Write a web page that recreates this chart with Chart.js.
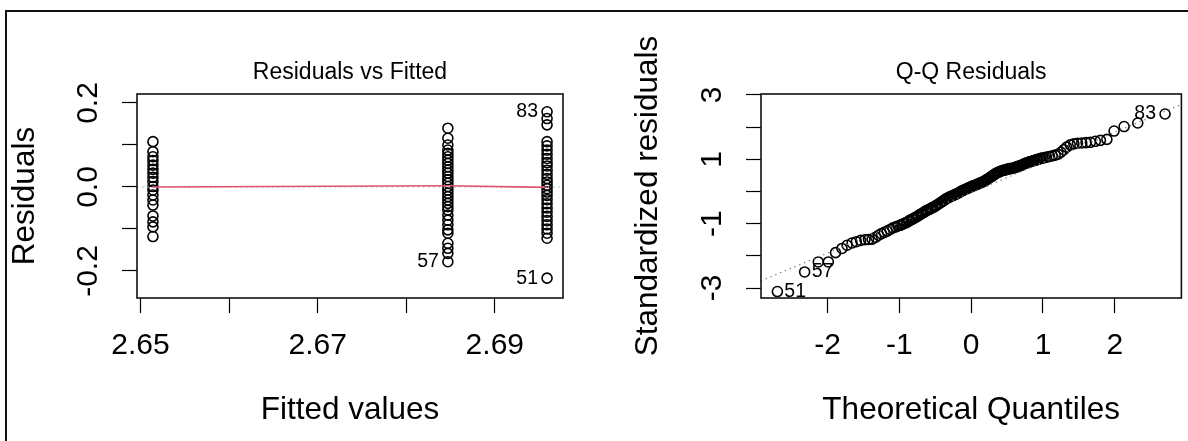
<!DOCTYPE html>
<html>
<head>
<meta charset="utf-8">
<script src="https://cdn.jsdelivr.net/npm/chart.js@4.4.0/dist/chart.umd.min.js"></script>
<style>
  html, body { margin: 0; padding: 0; background: #fff; }
  body { width: 1188px; height: 441px; position: relative; overflow: hidden; }
  #frame { position: absolute; left: 5px; top: 10px; width: 1300px; height: 600px;
           border-left: 2px solid #111; border-top: 2px solid #111; }
  canvas { position: absolute; top: 0; }
  #fitted { left: 0; }
  #qq { left: 594px; }
</style>
</head>
<body>
<div id="frame"></div>
<canvas id="fitted" width="594" height="441"></canvas>
<canvas id="qq" width="594" height="441"></canvas>
<script>
// plot.lm style pair: residuals vs fitted, normal Q-Q
Chart.defaults.font.family = "'Liberation Sans', Arial, sans-serif";
Chart.defaults.color = "#000";

// --- residuals vs fitted ---
const groupFitted = [2.6514, 2.6847, 2.6959];
const resLow = [0.108, 0.084, 0.072, 0.063, 0.052, 0.042, 0.033, 0.023, 0.013, 0.001,
  -0.007, -0.019, -0.031, -0.043, -0.069, -0.083, -0.095, -0.118];
const resMid = [0.140, 0.116, 0.100, 0.088, 0.080, 0.072, 0.064, 0.056, 0.048, 0.040,
  0.033, 0.025, 0.017, 0.009, 0.001, -0.007, -0.015, -0.023, -0.031, -0.039, -0.047,
  -0.055, -0.067, -0.079, -0.090, -0.102, -0.110, -0.134, -0.146, -0.158, -0.178];
const resHigh = [0.179, 0.163, 0.148, 0.108, 0.098, 0.088, 0.078, 0.068, 0.058, 0.050,
  0.040, 0.030, 0.020, 0.012, 0.004, -0.004, -0.012, -0.020, -0.030, -0.040, -0.050,
  -0.060, -0.070, -0.080, -0.090, -0.100, -0.110, -0.122, -0.217];
const smoothX = [2.6514, 2.6847, 2.6959];
const smoothY = [0.000, 0.003, -0.001];
const fittedRange = [2.6496, 2.6977];
const residRange = [-0.2643, 0.2214];
const fittedTicks = [2.65, 2.66, 2.67, 2.68, 2.69];
const fittedTickLabels = ["2.65", "", "2.67", "", "2.69"];
const residTicks = [-0.2, -0.1, 0, 0.1, 0.2];
const residTickLabels = ["-0.2", "", "0.0", "", "0.2"];

// --- normal Q-Q ---
const qqTheo = [-2.70, -2.32, -2.13, -1.99, -1.89, -1.80, -1.73, -1.66, -1.60, -1.54,
  -1.48, -1.43, -1.38, -1.33, -1.29, -1.25, -1.21, -1.17, -1.13, -1.09, -1.05, -1.02,
  -0.99, -0.97, -0.95, -0.93, -0.91, -0.89, -0.87, -0.85, -0.83, -0.81,
  -0.79, -0.77, -0.75, -0.73, -0.71, -0.69, -0.67, -0.65, -0.63, -0.61,
  -0.59, -0.57, -0.55, -0.53, -0.51, -0.49, -0.47, -0.45, -0.43, -0.41,
  -0.39, -0.37, -0.35, -0.33, -0.31, -0.29, -0.27, -0.25, -0.23, -0.21,
  -0.19, -0.17, -0.15, -0.13, -0.11, -0.09, -0.07, -0.05, -0.03, -0.01,
  0.01, 0.03, 0.05, 0.07, 0.09, 0.11, 0.13, 0.15, 0.17, 0.19,
  0.21, 0.23, 0.25, 0.27, 0.29, 0.31, 0.33, 0.35, 0.37, 0.39,
  0.41, 0.43, 0.45, 0.47, 0.49, 0.51, 0.53, 0.55, 0.57, 0.59,
  0.61, 0.63, 0.65, 0.67, 0.69, 0.71, 0.73, 0.75, 0.77, 0.79,
  0.81, 0.83, 0.85, 0.87, 0.89, 0.91, 0.93, 0.95, 0.97, 0.99,
  1.02, 1.05, 1.09, 1.13, 1.17, 1.21, 1.25, 1.29, 1.33, 1.38, 1.43,
  1.48, 1.54, 1.60, 1.66, 1.73, 1.80, 1.89, 1.99, 2.13, 2.32, 2.70];
const qqStd = [-3.11, -2.50, -2.19, -2.19, -1.90, -1.77, -1.67, -1.60, -1.56, -1.52,
  -1.50, -1.49, -1.48, -1.42, -1.36, -1.31, -1.27, -1.23, -1.18, -1.13, -1.10, -1.07,
  -1.05, -1.03, -1.01, -0.99, -0.97, -0.95, -0.92, -0.89, -0.87, -0.85,
  -0.82, -0.80, -0.77, -0.74, -0.71, -0.69, -0.66, -0.63, -0.60, -0.58,
  -0.56, -0.54, -0.51, -0.49, -0.47, -0.44, -0.41, -0.38, -0.35, -0.32,
  -0.29, -0.26, -0.23, -0.20, -0.18, -0.16, -0.14, -0.12, -0.10, -0.08,
  -0.06, -0.03, -0.01, 0.02, 0.04, 0.06, 0.08, 0.10, 0.12, 0.14,
  0.16, 0.18, 0.19, 0.21, 0.23, 0.25, 0.27, 0.29, 0.31, 0.33,
  0.36, 0.39, 0.42, 0.45, 0.48, 0.51, 0.54, 0.57, 0.59, 0.61,
  0.63, 0.65, 0.66, 0.67, 0.68, 0.70, 0.71, 0.71, 0.72, 0.73,
  0.75, 0.76, 0.78, 0.79, 0.81, 0.83, 0.85, 0.87, 0.89, 0.90,
  0.92, 0.93, 0.95, 0.96, 0.97, 0.99, 1.00, 1.01, 1.03, 1.04,
  1.05, 1.07, 1.09, 1.11, 1.13, 1.16, 1.22, 1.30, 1.38, 1.45, 1.48,
  1.50, 1.51, 1.52, 1.53, 1.56, 1.59, 1.62, 1.88, 2.02, 2.13, 2.41];
const qqLineX = [-2.93, 2.93];
const qqLineY = [-2.78, 2.71];
const qqXRange = [-2.928, 2.928];
const qqYRange = [-3.31, 3.031];
const qqXTicks = [-2, -1, 0, 1, 2];
const qqXTickLabels = ["-2", "-1", "0", "1", "2"];
const qqYTicks = [-3, -2, -1, 0, 1, 2, 3];
const qqYTickLabels = ["-3", "", "-1", "", "1", "", "3"];

const pts = (xs, ys) => ys.map((y, i) => ({ x: Array.isArray(xs) ? xs[i] : xs, y }));

// box round the plot region
const frameBox = {
  id: "frameBox",
  afterDatasetsDraw(chart) {
    const { ctx, chartArea: a } = chart;
    ctx.save();
    ctx.strokeStyle = "#111";
    ctx.lineWidth = 1.6;
    ctx.strokeRect(a.left, a.top, a.right - a.left, a.bottom - a.top);
    ctx.restore();
  }
};

// point id labels, left or right of the point like text.id in plot.lm
const idLabels = {
  id: "idLabels",
  afterDatasetsDraw(chart, args, opts) {
    const { ctx, chartArea: a } = chart;
    const mid = (a.left + a.right) / 2;
    ctx.save();
    ctx.font = "19.5px 'Liberation Sans', Arial, sans-serif";
    ctx.fillStyle = "#000";
    ctx.textBaseline = "middle";
    (opts.items || []).forEach(it => {
      const el = chart.getDatasetMeta(it.ds).data[it.i];
      const onLeft = el.x > mid;
      ctx.textAlign = onLeft ? "right" : "left";
      ctx.fillText(it.text, el.x + (onLeft ? -9 : 7), el.y);
    });
    ctx.restore();
  }
};

function xAxis(ticks, labels, range, title) {
  return {
    type: "linear", position: "bottom", min: range[0], max: range[1],
    afterBuildTicks: s => { s.ticks = ticks.map(v => ({ value: v })); },
    afterFit: s => { s.height = 143; },
    ticks: { autoSkip: false, maxRotation: 0, padding: 15, font: { size: 30 }, color: "#000",
      callback: (v, i) => labels[i] },
    grid: { drawOnChartArea: false, tickLength: 15, tickColor: "#000", tickWidth: 1.2 },
    border: { display: false },
    title: { display: true, text: title, font: { size: 31.5 }, color: "#000", padding: { top: 0, bottom: 12 } }
  };
}

function yAxis(ticks, labels, range, title, width, pad, titlePad) {
  return {
    type: "linear", position: "left", min: range[0], max: range[1],
    afterBuildTicks: s => { s.ticks = ticks.map(v => ({ value: v })); },
    afterFit: s => { s.width = width; },
    ticks: { autoSkip: false, minRotation: 90, maxRotation: 90, crossAlign: "center", padding: pad,
      font: { size: 30 }, color: "#000", callback: (v, i) => labels[i] },
    grid: { drawOnChartArea: false, tickLength: 15, tickColor: "#000", tickWidth: 1.2 },
    border: { display: false },
    title: { display: true, text: title, font: { size: 31.5 }, color: "#000", padding: { top: titlePad, bottom: 0 } }
  };
}

function plotTitle(text) {
  return { display: true, text, fullSize: false, color: "#000",
    font: { size: 23, weight: "normal" }, padding: { top: 59, bottom: 7.4 } };
}

const circles = { showLine: false, pointStyle: "circle", pointRadius: 5, pointBorderWidth: 1.6,
  pointBorderColor: "#000", pointBackgroundColor: "rgba(0,0,0,0)" };

new Chart(document.getElementById("fitted"), {
  type: "scatter",
  data: {
    datasets: [
      { data: pts(smoothX, smoothY), showLine: true, borderColor: "#DF536B", borderWidth: 1.6, pointRadius: 0 },
      { data: pts(fittedRange, [0, 0]), showLine: true, borderColor: "#BEBEBE", borderWidth: 1.3,
        borderDash: [1.3, 3.9], pointRadius: 0 },
      { data: pts(groupFitted[0], resLow), ...circles },
      { data: pts(groupFitted[1], resMid), ...circles },
      { data: pts(groupFitted[2], resHigh), ...circles }
    ]
  },
  options: {
    responsive: false, animation: false,
    layout: { padding: { left: 0, right: 31, top: 0, bottom: 0 } },
    scales: {
      x: xAxis(fittedTicks, fittedTickLabels, fittedRange, "Fitted values"),
      y: yAxis(residTicks, residTickLabels, residRange, "Residuals", 137, 7, 6)
    },
    plugins: {
      legend: { display: false }, tooltip: { enabled: false },
      title: plotTitle("Residuals vs Fitted"),
      idLabels: { items: [
        { ds: 4, i: 0, text: "83" },
        { ds: 3, i: resMid.length - 1, text: "57" },
        { ds: 4, i: resHigh.length - 1, text: "51" }
      ] }
    }
  },
  plugins: [frameBox, idLabels]
});

new Chart(document.getElementById("qq"), {
  type: "scatter",
  data: {
    datasets: [
      { data: pts(qqLineX, qqLineY), showLine: true, borderColor: "#7F7F7F", borderWidth: 1.3,
        borderDash: [1.3, 3.9], pointRadius: 0 },
      { data: pts(qqTheo, qqStd), ...circles }
    ]
  },
  options: {
    responsive: false, animation: false,
    layout: { padding: { left: 0, right: 1, top: 0, bottom: 0 } },
    scales: {
      x: xAxis(qqXTicks, qqXTickLabels, qqXRange, "Theoretical Quantiles"),
      y: yAxis(qqYTicks, qqYTickLabels, qqYRange, "Standardized residuals", 167, 20, 35)
    },
    plugins: {
      legend: { display: false }, tooltip: { enabled: false },
      title: plotTitle("Q-Q Residuals"),
      idLabels: { items: [
        { ds: 1, i: 0, text: "51" },
        { ds: 1, i: 1, text: "57" },
        { ds: 1, i: qqStd.length - 1, text: "83" }
      ] }
    }
  },
  plugins: [frameBox, idLabels]
});
</script>
</body>
</html>
